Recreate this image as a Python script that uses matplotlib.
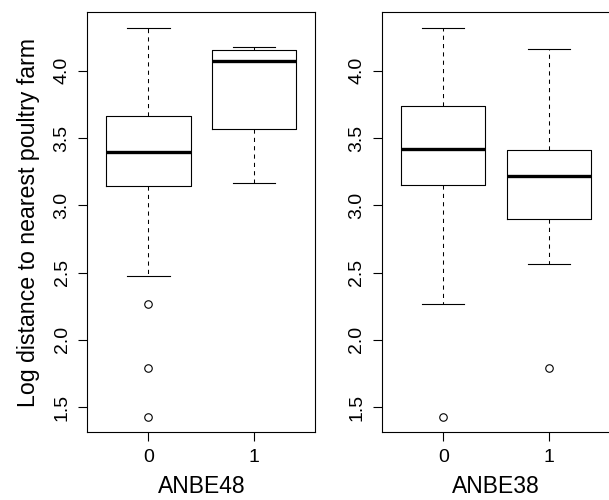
import numpy as np
import matplotlib
matplotlib.use('Agg')
import matplotlib.pyplot as plt

plt.rcParams['font.family'] = ['Liberation Sans', 'DejaVu Sans']

# values (log distance to nearest poultry farm)
groups = ['0', '1']
panels = ['ANBE48', 'ANBE38']

anbe48_med = [3.393, 4.070]
anbe48_q1 = [3.142, 3.566]
anbe48_q3 = [3.665, 4.152]
anbe48_lo = [2.472, 3.164]
anbe48_hi = [4.320, 4.179]
anbe48_out = [[2.269, 1.788, 1.429], []]

anbe38_med = [3.415, 3.216]
anbe38_q1 = [3.150, 2.899]
anbe38_q3 = [3.737, 3.412]
anbe38_lo = [2.266, 2.560]
anbe38_hi = [4.320, 4.164]
anbe38_out = [[1.429], [1.788]]

yticks = [1.5, 2.0, 2.5, 3.0, 3.5, 4.0]
ylim = (1.314, 4.435)


def make_stats(med, q1, q3, lo, hi, out):
    st = []
    for i in range(len(med)):
        st.append({'med': med[i], 'q1': q1[i], 'q3': q3[i],
                   'whislo': lo[i], 'whishi': hi[i], 'fliers': out[i]})
    return st


stats = [make_stats(anbe48_med, anbe48_q1, anbe48_q3, anbe48_lo, anbe48_hi, anbe48_out),
         make_stats(anbe38_med, anbe38_q1, anbe38_q3, anbe38_lo, anbe38_hi, anbe38_out)]

fig = plt.figure(figsize=(6.09, 5.0), dpi=100)
rects = [[0.1433, 0.136, 0.3744, 0.8394],
         [0.6273, 0.136, 0.3744, 0.8394]]

for k in range(2):
    ax = fig.add_axes(rects[k])
    ax.bxp(stats[k], positions=[1, 2], widths=0.8, patch_artist=False,
           boxprops=dict(color='black', linewidth=0.8),
           medianprops=dict(color='black', linewidth=2.4, solid_capstyle='butt'),
           whiskerprops=dict(color='black', linewidth=0.75, linestyle=(0, (4, 4))),
           capprops=dict(color='black', linewidth=0.8),
           flierprops=dict(marker='o', markersize=5.4, markerfacecolor='none',
                           markeredgecolor='black', markeredgewidth=0.8),
           capwidths=0.4)
    ax.set_xlim(0.42, 2.58)
    ax.set_ylim(*ylim)
    ax.set_xticks([1, 2])
    ax.set_xticklabels(groups)
    ax.set_yticks(yticks)
    ax.set_yticklabels(['%.1f' % v for v in yticks], rotation=90, va='center')
    ax.tick_params(axis='both', length=6.5, width=0.8, labelsize=14, pad=5.5)
    for s in ax.spines.values():
        s.set_linewidth(0.8)
    ax.set_xlabel(panels[k], fontsize=16.5, labelpad=7)
    if k == 0:
        ax.set_ylabel('Log distance to nearest poultry farm', fontsize=16.7, labelpad=10)

fig.savefig('out.png', dpi=100)
